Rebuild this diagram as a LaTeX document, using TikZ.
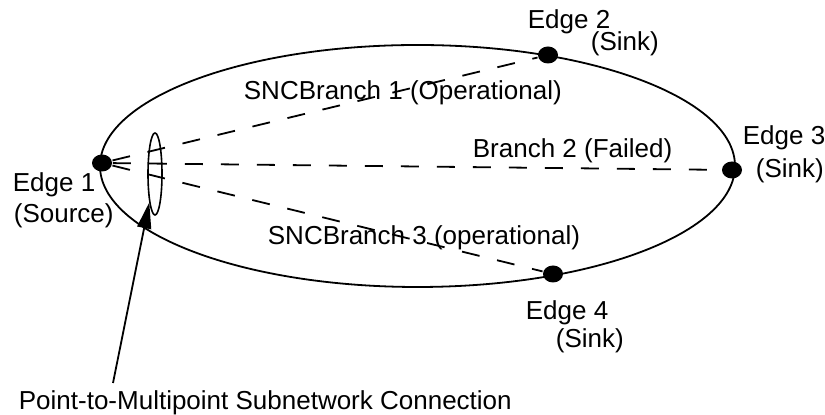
\documentclass[tikz,border=0pt]{standalone}
\usepackage{fontspec}
\setmainfont{Liberation Sans}
\usetikzlibrary{shapes,arrows.meta,positioning}

\begin{document}
\begin{tikzpicture}[x=0.5pt,y=-0.5pt,line width=0.9pt,
    dot/.style={ellipse,fill,inner sep=0pt,minimum width=10pt,minimum height=8.5pt},
    lbl/.style={anchor=base west,inner sep=0pt,font=\fontsize{13}{15}\selectfont},
    branch/.style={dash pattern=on 9pt off 9pt}]
  \useasboundingbox (0,0) rectangle (825,415);
  % subnetwork
  \draw (417.5,166) ellipse [x radius=317.5, y radius=121];
  \node[dot] (e_1) at (102,163) {};
  \node[dot] (e_2) at (548,55) {};
  \node[dot] (e_3) at (732,170) {};
  \node[dot] (e_4) at (553,274) {};
  \node[draw,ellipse,inner sep=0pt,minimum width=7pt,minimum height=41pt,line width=0.8pt] (sncp) at (155,174) {};
  \path[branch]
    (e_1) edge (e_2)
    (e_1) edge (e_3)
    (e_1) edge (e_4);
  % labels
  \node[lbl] (t_1) at (12,192) {Edge 1};
  \node[lbl] (s_1) at (13,223) {(Source)};
  \node[lbl] (t_2) at (527,29) {Edge 2};
  \node[lbl] (s_2) at (590,51) {(Sink)};
  \node[lbl] (t_3) at (742,145) {Edge 3};
  \node[lbl] (s_3) at (755,178) {(Sink)};
  \node[lbl] (t_4) at (525,320) {Edge 4};
  \node[lbl] (s_4) at (555,348) {(Sink)};
  \node[lbl] (b_1) at (243,100) {SNCBranch 1 (Operational)};
  \node[lbl] (b_2) at (472,158) {Branch 2 (Failed)};
  \node[lbl] (b_3) at (267,245) {SNCBranch 3 (operational)};
  \node[lbl] (conn) at (18,410) {Point-to-Multipoint Subnetwork Connection};
  \coordinate (ptr) at (113,383);
  \draw[-{Triangle[length=13pt,width=7pt]}] (ptr) -- (sncp);
\end{tikzpicture}
\end{document}
